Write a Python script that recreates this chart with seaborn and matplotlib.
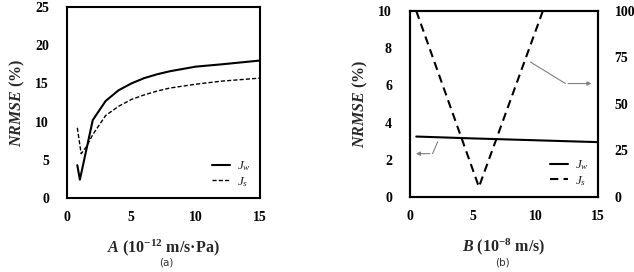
import matplotlib
matplotlib.use("Agg")
import matplotlib.pyplot as plt
import seaborn as sns
import pandas as pd

# Panel (a)
a_jw_x = [0.8, 1.0, 2.0, 3.0, 4.0, 5.0, 6.0, 7.0, 8.0, 9.0, 10.0, 12.0, 15.0]
a_jw_y = [4.3, 2.4, 10.2, 12.7, 14.1, 15.0, 15.7, 16.2, 16.6, 16.9, 17.2, 17.5, 18.0]
a_js_x = [0.8, 1.1, 1.5, 2.0, 3.0, 4.0, 5.0, 6.0, 7.0, 8.0, 10.0, 12.0, 15.0]
a_js_y = [9.2, 5.8, 6.7, 8.3, 10.8, 12.0, 12.9, 13.5, 14.0, 14.4, 14.9, 15.3, 15.7]

# Panel (b)
b_jw_x = [0.5, 5.0, 10.0, 15.0]
b_jw_y = [3.25, 3.15, 3.05, 2.95]
b_js_x = [0.5, 5.5, 10.6]
b_js_y = [100.0, 5.4, 100.0]

sns.set_theme(style="white")
plt.rcParams['font.family'] = ['Liberation Serif', 'DejaVu Serif']
plt.rcParams['mathtext.fontset'] = 'custom'
plt.rcParams['mathtext.it'] = 'Liberation Serif:italic'
plt.rcParams['mathtext.rm'] = 'Liberation Serif'
plt.rcParams['mathtext.bf'] = 'Liberation Serif:bold'
plt.rcParams['mathtext.bfit'] = 'Liberation Serif:italic:bold'

fig = plt.figure(figsize=(6.34, 2.72), dpi=100)
ax1 = fig.add_axes([0.1057, 0.272, 0.3044, 0.702])
ax2 = fig.add_axes([0.6467, 0.2757, 0.2965, 0.684])

dfa1 = pd.DataFrame({"x": a_jw_x, "y": a_jw_y})
dfa2 = pd.DataFrame({"x": a_js_x, "y": a_js_y})
sns.lineplot(data=dfa1, x="x", y="y", ax=ax1, color="black", lw=1.5, label=r"$J_w$")
sns.lineplot(data=dfa2, x="x", y="y", ax=ax1, color="black", lw=1.0, ls=(0, (3, 1.5)), label=r"$J_s$")
ax1.set_xlim(0, 15)
ax1.set_ylim(0, 25)
ax1.set_xticks([0, 5, 10, 15])
ax1.set_yticks([0, 5, 10, 15, 20, 25])

dfb1 = pd.DataFrame({"x": b_jw_x, "y": b_jw_y})
dfb2 = pd.DataFrame({"x": b_js_x, "y": b_js_y})
ax2r = ax2.twinx()
sns.lineplot(data=dfb1, x="x", y="y", ax=ax2, color="black", lw=1.5, label=r"$J_w$", legend=False)
sns.lineplot(data=dfb2, x="x", y="y", ax=ax2r, color="black", lw=1.5, ls=(0, (4, 2.5)), label=r"$J_s$", legend=False)
ax2.set_xlim(0, 15)
ax2.set_ylim(0, 10)
ax2r.set_ylim(0, 100)
ax2.set_xticks([0, 5, 10, 15])
ax2.set_yticks([0, 2, 4, 6, 8, 10])
ax2r.set_yticks([0, 25, 50, 75, 100])

for ax in (ax1, ax2, ax2r):
    for s in ax.spines.values():
        s.set_color("black")
        s.set_linewidth(1.5)
    ax.tick_params(axis="both", direction="in", length=3, width=1, colors="black",
                   labelsize=10)
    for lab in ax.get_xticklabels() + ax.get_yticklabels():
        lab.set_fontweight("bold")
    ax.set_xlabel("")
    ax.set_ylabel("")
ax1.tick_params(axis="x", pad=9)
ax2.tick_params(axis="x", pad=9)
ax1.tick_params(axis="y", length=0, pad=13)
ax2.tick_params(axis="y", length=0, pad=13)
ax2r.tick_params(axis="y", length=0, pad=12)

ax1.set_xlabel(r"$\mathbfit{A}$ (10$^{\mathbf{-12}}$ m/s·Pa)", fontsize=11.5, fontweight="bold", labelpad=10)
ax1.set_ylabel(r"$\mathbfit{NRMSE}$ (%)", fontsize=11.5, fontweight="bold", labelpad=6)
ax2.set_xlabel(r"$\mathbfit{B}$ (10$^{\mathbf{-8}}$ m/s)", fontsize=11.5, fontweight="bold", labelpad=10)
ax2.set_ylabel(r"$\mathbfit{NRMSE}$ (%)", fontsize=11.5, fontweight="bold", labelpad=6)

leg = ax1.legend(loc="lower right", frameon=False, fontsize=9.5, handlelength=1.4,
                 borderaxespad=0.3, labelspacing=0.15, handletextpad=0.5)
h1, l1 = ax2.get_legend_handles_labels()
h2, l2 = ax2r.get_legend_handles_labels()
ax2r.legend(h1 + h2, l1 + l2, loc="lower right", frameon=False, fontsize=9.5,
            handlelength=1.4, borderaxespad=0.3, labelspacing=0.15, handletextpad=0.5)

# annotation arrows in panel (b)
ax2.annotate("", xy=(0.25, 2.33), xytext=(1.8, 2.33),
             arrowprops=dict(arrowstyle="-|>", color="gray", lw=0.8, mutation_scale=6))
ax2.plot([1.8, 2.2], [2.33, 2.96], color="gray", lw=0.8)
ax2r.annotate("", xy=(14.7, 61), xytext=(12.4, 61),
              arrowprops=dict(arrowstyle="-|>", color="gray", lw=0.8, mutation_scale=6))
ax2r.plot([9.6, 12.4], [72.6, 61], color="gray", lw=0.8)

fig.text(0.262, 0.025, "(a)", ha="center", fontsize=7.5, family="DejaVu Sans", color="#333333")
fig.text(0.793, 0.025, "(b)", ha="center", fontsize=7.5, family="DejaVu Sans", color="#333333")

fig.savefig("out.png", dpi=100)
